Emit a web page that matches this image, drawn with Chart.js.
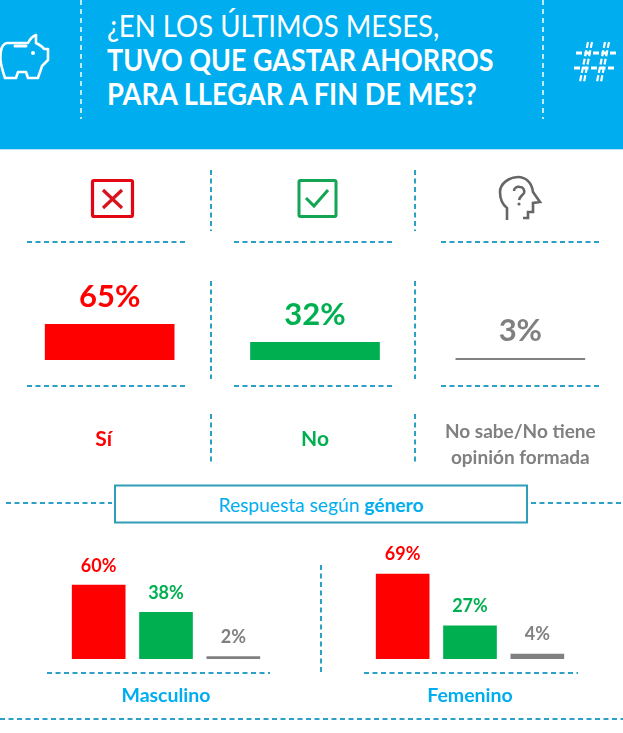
<!DOCTYPE html>
<html lang="es"><head><meta charset="utf-8">
<script src="https://cdn.jsdelivr.net/npm/chart.js@4"></script>
<style>
html,body{margin:0;padding:0;background:#fff;overflow:hidden}
#page{position:relative;width:623px;height:733px;font-family:Lato,sans-serif;overflow:hidden}
#page>*{position:absolute}
svg{left:0;top:0}
.t{white-space:nowrap;line-height:1;transform-origin:0 50%}
canvas{display:block}
</style></head><body>
<div id="page">
<svg width="623" height="733" viewBox="0 0 623 733" fill="none">
  <rect x="0" y="0" width="623" height="149" fill="#00aeef"/>
  <rect x="0" y="149" width="623" height="1" fill="#b5e3f5"/>
  <g stroke="#fff" stroke-width="1.5" stroke-dasharray="5 4">
    <path d="M81 0V119M543 0V119"/>
  </g>
  <!-- piggy -->
  <g stroke="#fff" stroke-width="2.6" stroke-linejoin="round" stroke-linecap="round">
    <path d="M0.5 60C0 50 2 43 8 43L28 43C30 39 33 36 36 35L36 43C40 45 43 47 44 49L48 49L48 60L42 66C41 70 39 74 38 78L28 78L26 72L18 72L16 78L5 78C3 72 1 66 0.5 60Z"/>
    <path d="M15 46H26" stroke-width="3"/>
  </g>
  <circle cx="33" cy="53" r="2" fill="#fff"/>
  <!-- hash -->
  <g stroke="#fff" stroke-width="2.2" stroke-dasharray="6 2.5">
    <path d="M588 42L580 82M592 42L584 82M605 42L597 82M609 42L601 82"/>
    <path d="M576 53H616M574 68H614" stroke-width="3"/>
  </g>
  <!-- icons -->
  <rect x="92.5" y="180.5" width="40" height="36" rx="1.5" stroke="#e30613" stroke-width="3.2"/>
  <path d="M103 190L122 208M122 190L103 208" stroke="#d9131c" stroke-width="3.2"/>
  <rect x="299" y="180.5" width="37" height="36" rx="1.5" stroke="#13a454" stroke-width="3"/>
  <path d="M306 198L314 206L328 190" stroke="#13a454" stroke-width="3"/>
  <g stroke="#666" stroke-width="2.6" stroke-linejoin="miter" stroke-linecap="butt">
    <path d="M507 220V208C502 204 500 199 500 192C500 183 510 177 518 177C526 177 532 183 533 192L540 202L533 203V212H528V218H523"/>
    <path d="M514 191C514 188 517 186 520 187C523 187 525 190 524 193C523 195 520 196 519 200"/>
  </g>
  <circle cx="519" cy="204" r="1.6" fill="#666"/>
  <!-- dashed guides -->
  <g stroke="#2b9fc6" stroke-width="2" stroke-dasharray="5 3.5">
    <path d="M27 242H187M234 242H394M441 242H600"/>
    <path d="M27 386H187M234 386H394M441 386H600"/>
    <path d="M211 170V231M415 170V231M211 281V379M415 281V379M211 414V465M415 414V465"/>
    <path d="M6 503H112M531 503H623"/>
    <path d="M47 673H270M364 673H578"/>
    <path d="M321 565V673"/>
    <path d="M0 719H623"/>
  </g>
  <rect x="115" y="485.5" width="412" height="37" stroke="#2f9db5" stroke-width="2"/>
</svg>
<div class="t" style="left:107px;top:10px;font-size:30px;color:#fff;transform:scaleX(.919)">¿EN LOS ÚLTIMOS MESES,</div>
<div class="t" style="left:107px;top:44px;font-size:30px;font-weight:700;color:#fff;transform:scaleX(.896)">TUVO QUE GASTAR AHORROS</div>
<div class="t" style="left:107px;top:78px;font-size:30px;font-weight:700;color:#fff;transform:scaleX(.909)">PARA LLEGAR A FIN DE MES?</div>
<div class="t" style="left:115px;width:412px;top:495px;text-align:center;font-size:19.2px;color:#00aeef">Respuesta según <b>género</b></div>
<canvas id="totalChart" width="616" height="200" style="left:7px;top:280px"></canvas>
<canvas id="mascChart" width="202" height="185" style="left:65px;top:536px"></canvas>
<canvas id="femChart" width="202" height="185" style="left:369px;top:536px"></canvas>
</div>
<script>
const categories = ['Sí', 'No', ['No sabe/No tiene', 'opinión formada']];
const totalValues = [65, 32, 3];
const masculinoValues = [60, 38, 2];
const femeninoValues = [69, 27, 4];
const barColors = ['#ff0000', '#00b050', '#808080'];
const genderTitles = ['Masculino', 'Femenino'];

const valueLabels = {
  id: 'valueLabels',
  afterDatasetsDraw(chart, args, opts) {
    const {ctx} = chart;
    const meta = chart.getDatasetMeta(0);
    ctx.save();
    ctx.textAlign = 'center';
    ctx.textBaseline = 'middle';
    ctx.font = 'bold ' + opts.size + 'px Lato, sans-serif';
    meta.data.forEach((bar, i) => {
      ctx.fillStyle = barColors[i];
      ctx.fillText(chart.data.datasets[0].data[i] + '%', bar.x, bar.y - opts.offset);
    });
    ctx.restore();
  },
  beforeDraw(chart, args, opts) {
    // the "Sí" caption sits slightly left of its bar's centre in the original
    if (!opts.firstTickNudge) return;
    const x = chart.scales.x;
    const item = x.getLabelItems()[0];
    if (item) item.options.translation[0] = x.getPixelForTick(0) + opts.firstTickNudge;
  }
};
Chart.register(valueLabels);

function barChart(id, values, labels, thickness, pxTop, labelCfg, xOpts) {
  return new Chart(document.getElementById(id), {
    type: 'bar',
    data: {labels, datasets: [{data: values, backgroundColor: barColors, barThickness: thickness, borderWidth: 0}]},
    options: {
      responsive: false, animation: false,
      layout: {padding: {top: pxTop, left: 0, right: 0, bottom: 0}},
      plugins: {legend: {display: false}, tooltip: {enabled: false}, valueLabels: labelCfg},
      scales: {
        y: {display: false, min: 0, max: 100},
        x: Object.assign({grid: {display: false, drawTicks: false}, border: {display: false}}, xOpts)
      }
    }
  });
}

barChart('totalChart', totalValues, categories, 129, 25, {size: 31, offset: 27, firstTickNudge: -6}, {
  afterFit(scale) { scale.height = 120; scale.paddingLeft = 0; scale.paddingRight = 0; },
  ticks: {
    autoSkip: false, maxRotation: 0, padding: 72, crossAlign: 'center',
    color: c => barColors[c.index],
    font: c => ({family: 'Lato, sans-serif', weight: 'bold', size: c.index === 2 ? 19 : 21, lineHeight: c.index === 2 ? 1.37 : 1.75})
  }
});
[['mascChart', masculinoValues], ['femChart', femeninoValues]].forEach(([id, values], k) => {
  barChart(id, values, ['Sí', 'No', 'No sabe/No tiene opinión formada'], 53, 0, {size: 18, offset: 19.5}, {
    afterFit(scale) { scale.height = 62; },
    ticks: {display: false},
    title: {display: true, text: genderTitles[k], color: '#00aeef', padding: {top: 0, bottom: 14},
      font: {family: 'Lato, sans-serif', weight: 'bold', size: 19.5}}
  });
});
</script>
</body></html>
